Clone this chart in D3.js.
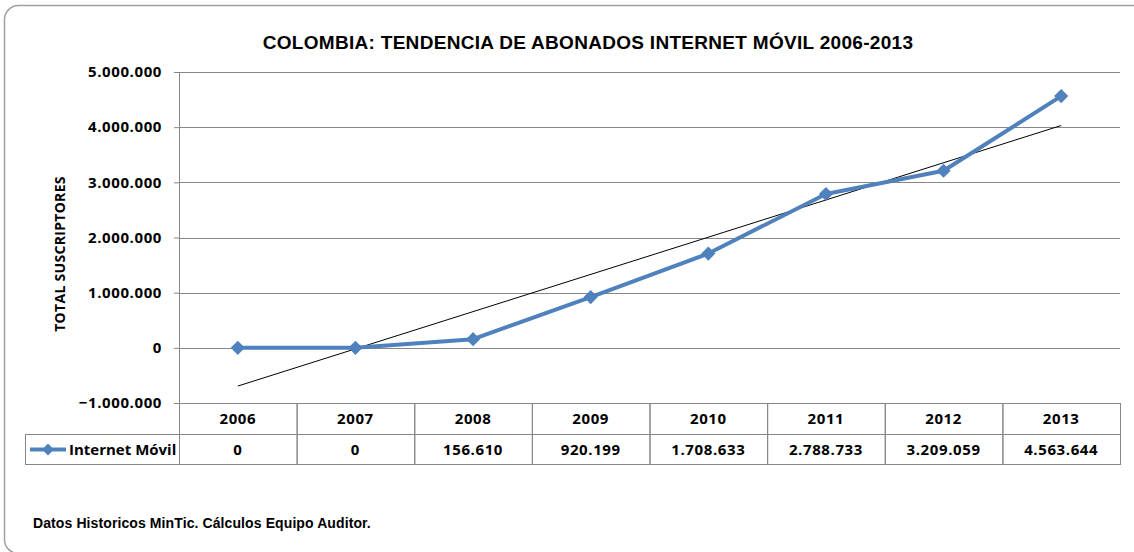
<!DOCTYPE html>
<html>
<head>
<meta charset="utf-8">
<script src="https://cdn.jsdelivr.net/npm/d3@7"></script>
<style>
  body { margin: 0; background: #fff; }
  text { fill: #000; }
  .title { font-family: "Liberation Sans", Arial, sans-serif; font-weight: bold; font-size: 19px; letter-spacing: 0.3px; }
  .tick text, .cell, .ytitle { font-family: "Open Sans", sans-serif; font-weight: bold; }
  .tick text, .cell { letter-spacing: 0.6px; }
  .footer { font-family: "Liberation Sans", Arial, sans-serif; font-weight: bold; font-size: 14px; letter-spacing: 0.1px; }
</style>
</head>
<body>
<svg width="1134" height="552"></svg>
<script>
const years = ['2006', '2007', '2008', '2009', '2010', '2011', '2012', '2013']
const internetMovil = [0, 0, 156610, 920199, 1708633, 2788733, 3209059, 4563644]
const yTicks = [-1000000, 0, 1000000, 2000000, 3000000, 4000000, 5000000]
const seriesName = 'Internet Móvil'

const svg = d3.select('svg')
const margin = { top: 72, right: 14, bottom: 149, left: 179 }
const width = svg.attr('width') - margin.left - margin.right
const height = svg.attr('height') - margin.top - margin.bottom
const blue = '#4F81BD'
const grid = '#868686'

// es-CO number format: dots for thousands
const fmt = d => d3.format(',')(d).replace(/,/g, '.')

// outer chart frame
svg.append('rect')
    .attr('x', 4.5).attr('y', 5.5)
    .attr('width', 1160).attr('height', 548)
    .attr('rx', 14)
    .attr('fill', 'none')
    .attr('stroke', '#a0a0a0')
    .attr('stroke-width', 1.5)

svg.append('text')
    .attr('class', 'title')
    .attr('x', 588).attr('y', 49)
    .attr('text-anchor', 'middle')
    .text('COLOMBIA: TENDENCIA DE ABONADOS INTERNET MÓVIL 2006-2013')

const g = svg.append('g')
    .attr('transform', `translate(${margin.left}, ${margin.top})`)

const x = d3.scaleBand().domain(years).range([0, width])
const y = d3.scaleLinear().domain([-1000000, 5000000]).range([height, 0])

// gridlines + y axis
const yAxis = g.append('g')
    .call(d3.axisLeft(y).tickValues(yTicks).tickFormat(fmt).tickSize(5).tickPadding(12))
yAxis.select('.domain').attr('stroke', grid)
yAxis.selectAll('.tick line').attr('stroke', grid)
yAxis.selectAll('.tick text').attr('font-size', 15).attr('fill', '#000')

g.append('g')
    .selectAll('line')
    .data(yTicks)
    .enter().append('line')
    .attr('x1', 0).attr('x2', width)
    .attr('y1', d => Math.round(y(d)) + 0.5).attr('y2', d => Math.round(y(d)) + 0.5)
    .attr('stroke', grid)

svg.append('text')
    .attr('class', 'ytitle')
    .attr('transform', 'translate(65, 254) rotate(-90)')
    .attr('text-anchor', 'middle')
    .attr('font-size', 14)
    .attr('letter-spacing', 0.3)
    .text('TOTAL SUSCRIPTORES')

// linear trend line
const xs = internetMovil.map((d, i) => i + 1)
const mx = d3.mean(xs), my = d3.mean(internetMovil)
const slope = d3.sum(xs, (v, i) => (v - mx) * (internetMovil[i] - my)) / d3.sum(xs, v => (v - mx) ** 2)
const icpt = my - slope * mx
const cx = d => x(d) + x.bandwidth() / 2

g.append('line')
    .attr('x1', cx(years[0])).attr('y1', y(icpt + slope * 1))
    .attr('x2', cx(years[years.length - 1])).attr('y2', y(icpt + slope * years.length))
    .attr('stroke', '#000')
    .attr('stroke-width', 1)

// series line
const line = d3.line()
    .x((d, i) => cx(years[i]))
    .y(d => y(d))

g.append('path')
    .datum(internetMovil)
    .attr('d', line)
    .attr('fill', 'none')
    .attr('stroke', blue)
    .attr('stroke-width', 4)
    .attr('stroke-linejoin', 'round')

g.selectAll('.pt')
    .data(internetMovil)
    .enter().append('path')
    .attr('class', 'pt')
    .attr('transform', (d, i) => `translate(${cx(years[i])}, ${y(d)}) rotate(45)`)
    .attr('d', d3.symbol().type(d3.symbolSquare).size(100))
    .attr('fill', blue)

// data table
const rowH = 31
const tTop = height
const table = g.append('g')
const tStroke = grid

// header row
table.selectAll('.hcell')
    .data(years)
    .enter().append('rect')
    .attr('x', d => x(d) + 0.5).attr('y', tTop + 0.5)
    .attr('width', x.bandwidth()).attr('height', rowH)
    .attr('fill', 'none').attr('stroke', tStroke)
table.selectAll('.htext')
    .data(years)
    .enter().append('text')
    .attr('class', 'cell')
    .attr('x', d => cx(d)).attr('y', tTop + rowH / 2 + 5.5)
    .attr('text-anchor', 'middle')
    .attr('font-size', 15)
    .text(d => d)

// value row
table.selectAll('.vcell')
    .data(internetMovil)
    .enter().append('rect')
    .attr('x', (d, i) => x(years[i]) + 0.5).attr('y', tTop + rowH + 0.5)
    .attr('width', x.bandwidth()).attr('height', rowH - 1)
    .attr('fill', 'none').attr('stroke', tStroke)
table.selectAll('.vtext')
    .data(internetMovil)
    .enter().append('text')
    .attr('class', 'cell')
    .attr('x', (d, i) => cx(years[i])).attr('y', tTop + rowH + rowH / 2 + 5.5)
    .attr('text-anchor', 'middle')
    .attr('font-size', 15)
    .text(d => fmt(d))

// legend cell
const lgX = 25 - margin.left
table.append('rect')
    .attr('x', lgX + 0.5).attr('y', tTop + rowH + 0.5)
    .attr('width', -lgX).attr('height', rowH - 1)
    .attr('fill', 'none').attr('stroke', tStroke)
const lgY = tTop + rowH + rowH / 2
table.append('line')
    .attr('x1', lgX + 5).attr('x2', lgX + 41)
    .attr('y1', lgY).attr('y2', lgY)
    .attr('stroke', blue).attr('stroke-width', 4)
table.append('path')
    .attr('transform', `translate(${lgX + 23}, ${lgY}) rotate(45)`)
    .attr('d', d3.symbol().type(d3.symbolSquare).size(70))
    .attr('fill', blue)
table.append('text')
    .attr('class', 'cell')
    .attr('x', lgX + 44).attr('y', lgY + 5.5)
    .attr('font-size', 15)
    .style('letter-spacing', '0px')
    .text(seriesName)

svg.append('text')
    .attr('class', 'footer')
    .attr('x', 33).attr('y', 528)
    .text('Datos Historicos MinTic. Cálculos Equipo Auditor.')
</script>
</body>
</html>
